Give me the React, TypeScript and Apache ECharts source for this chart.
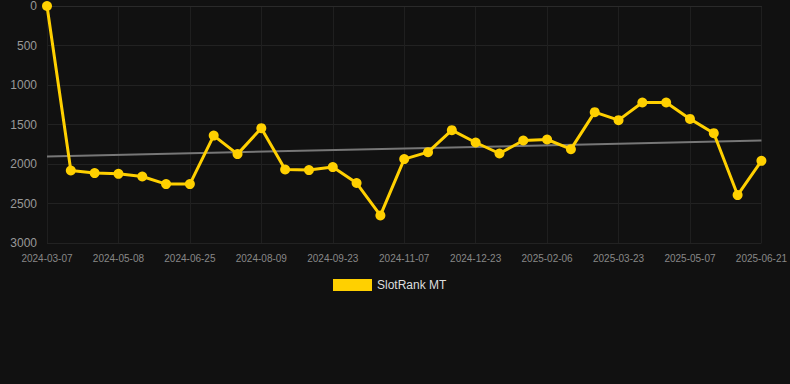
import React, { useEffect, useRef } from "react";
import * as echarts from "echarts";

const dates = [
  "2024-03-07", "2024-03-28", "2024-04-18", "2024-05-08", "2024-05-24", "2024-06-09",
  "2024-06-25", "2024-07-10", "2024-07-25", "2024-08-09", "2024-08-24", "2024-09-08",
  "2024-09-23", "2024-10-08", "2024-10-23", "2024-11-07", "2024-11-22", "2024-12-08",
  "2024-12-23", "2025-01-07", "2025-01-22", "2025-02-06", "2025-02-21", "2025-03-08",
  "2025-03-23", "2025-04-07", "2025-04-22", "2025-05-07", "2025-05-22", "2025-06-06",
  "2025-06-21",
];

const rankValues = [
  0, 2082, 2115, 2124, 2158, 2254, 2254, 1640, 1875, 1546, 2070, 2077, 2039, 2241, 2651,
  1938, 1850, 1572, 1728, 1867, 1703, 1690, 1812, 1344, 1445, 1222, 1222, 1429, 1610, 2393,
  1960,
];

const trendStart = 1905;
const trendEnd = 1703;

const seriesName = "SlotRank MT";

export default function App() {
  const ref = useRef<HTMLDivElement>(null);
  useEffect(() => {
    document.body.style.margin = "0";
    document.body.style.background = "#111111";
    if (!ref.current) return;
    const chart = echarts.init(ref.current, null, { renderer: "svg" });
    const trendData = dates.map((_, i) =>
      i === 0 ? trendStart : i === dates.length - 1 ? trendEnd : null
    );
    const font = "'Liberation Sans', Arial, sans-serif";
    chart.setOption({
      animation: false,
      backgroundColor: "#111111",
      textStyle: { fontFamily: font },
      grid: { left: 47, right: 28, top: 6, bottom: 141, containLabel: false },
      legend: {
        data: [seriesName],
        top: 279,
        left: 333,
        padding: 0,
        itemWidth: 39,
        itemHeight: 12,
        itemGap: 6,
        textStyle: { color: "#dddddd", fontSize: 12, fontFamily: font },
        icon: "rect",
      },
      xAxis: {
        type: "category",
        data: dates,
        boundaryGap: false,
        axisLine: { show: true, lineStyle: { color: "#2a2a2a" } },
        axisTick: { show: false },
        axisLabel: { interval: 2, color: "#888888", fontSize: 10, margin: 10, fontFamily: font },
        splitLine: { show: true, interval: 2, lineStyle: { color: "#1f1f1f" } },
      },
      yAxis: {
        type: "value",
        inverse: true,
        min: 0,
        max: 3000,
        interval: 500,
        axisLine: { show: false },
        axisTick: { show: false },
        axisLabel: {
          color: "#999999",
          fontSize: 12,
          margin: 10,
          fontFamily: font,
          formatter: (v: number) => String(v),
        },
        splitLine: { show: true, lineStyle: { color: "#222222" } },
      },
      series: [
        {
          name: seriesName,
          type: "line",
          data: rankValues,
          symbol: "circle",
          symbolSize: 10,
          itemStyle: { color: "#FFD000" },
          lineStyle: { color: "#FFD000", width: 3 },
          z: 3,
        },
        {
          name: "trend",
          type: "line",
          data: trendData,
          connectNulls: true,
          symbol: "none",
          lineStyle: { color: "#777777", width: 2 },
          z: 2,
        },
      ],
    });
    return () => chart.dispose();
  }, []);
  return <div ref={ref} style={{ width: 790, height: 384 }} />;
}
